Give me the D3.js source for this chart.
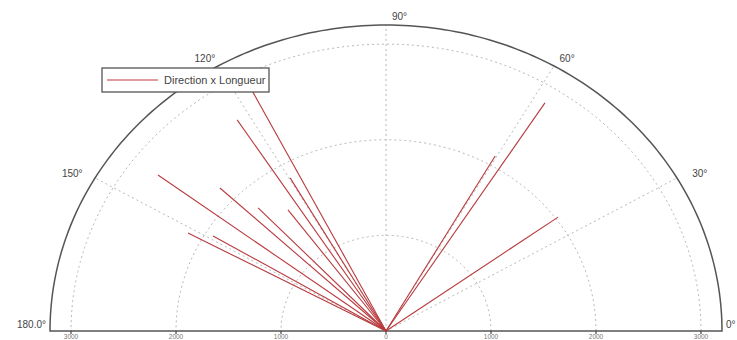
<!DOCTYPE html>
<html>
<head>
<meta charset="utf-8">
<script src="https://cdn.jsdelivr.net/npm/d3@7"></script>
<style>
  body { margin: 0; background: #fff; }
  svg { display: block; font-family: "Liberation Sans", Arial, sans-serif; }
</style>
</head>
<body>
<div id="container"></div>
<script>
/* DATA */
// direction in degrees, length in same unit as the rings
const directions = [116.9, 122.7, 143.1, 136.6, 133.4, 126.4, 119.7, 151.5, 148.9, 57.6, 60.4, 36.0];
const lengths = [2944, 2624, 2716, 2177, 1773, 1573, 1843, 2146, 1924, 2825, 2105, 2026];
const ringValues = [1000, 2000, 3000];
const spokeAngles = [30, 60, 90, 120, 150];
const angleLabels = ["0°", "30°", "60°", "90°", "120°", "150°", "180.0°"];
const axisTicks = [-3000, -2000, -1000, 0, 1000, 2000, 3000];
const legendLabel = "Direction x Longueur";

/* CONSTANTS */
const width = 737, height = 340;
const rMax = 3200;
const cx = 386, cy = 331;

const svg = d3.select("#container")
  .append("svg")
  .attr("width", width)
  .attr("height", height);

// x and y scales (picture is slightly squashed vertically)
const xScale = d3.scaleLinear().domain([-rMax, rMax]).range([cx - 336, cx + 336]);
const yScale = d3.scaleLinear().domain([0, rMax]).range([cy, cy - 306]);

const rad = a => a * Math.PI / 180;
const px = (r, a) => xScale(r * Math.cos(rad(a)));
const py = (r, a) => yScale(r * Math.sin(rad(a)));

const arcLine = d3.line()
  .x(d => px(d.r, d.a))
  .y(d => py(d.r, d.a));

const halfCircle = r => d3.range(0, 181, 1).map(a => ({ r: r, a: a }));

// dotted rings
svg.selectAll(".ring")
  .data(ringValues)
  .join("path")
  .attr("class", "ring")
  .attr("fill", "none")
  .attr("stroke", "#b8b8b8")
  .attr("stroke-width", 1)
  .attr("stroke-dasharray", "2,3")
  .attr("d", d => arcLine(halfCircle(d)));

// dotted spokes
svg.selectAll(".spoke")
  .data(spokeAngles)
  .join("line")
  .attr("class", "spoke")
  .attr("x1", px(0, 0))
  .attr("y1", py(0, 0))
  .attr("x2", d => px(rMax, d))
  .attr("y2", d => py(rMax, d))
  .attr("stroke", "#b8b8b8")
  .attr("stroke-width", 1)
  .attr("stroke-dasharray", "2,3");

// outer arc + base axis
svg.append("path")
  .attr("fill", "none")
  .attr("stroke", "#555")
  .attr("stroke-width", 1.5)
  .attr("d", arcLine(halfCircle(rMax)) + "Z");

// axis ticks below
svg.selectAll(".tick")
  .data(axisTicks)
  .join("line")
  .attr("class", "tick")
  .attr("x1", d => xScale(d))
  .attr("x2", d => xScale(d))
  .attr("y1", cy)
  .attr("y2", cy + 3)
  .attr("stroke", "#444")
  .attr("stroke-width", 1.2);

// tick labels squeezed into the strip under the axis
svg.selectAll(".tick-label")
  .data(axisTicks)
  .join("text")
  .attr("class", "tick-label")
  .attr("x", d => xScale(d))
  .attr("y", height - 1)
  .attr("text-anchor", "middle")
  .attr("font-size", 6.5)
  .attr("fill", "#777")
  .text(d => Math.abs(d));

// angle labels
svg.selectAll(".angle-label")
  .data(angleLabels)
  .join("text")
  .attr("class", "angle-label")
  .attr("x", (d, i) => {
    const a = i * 30;
    if (a === 0) return xScale(rMax) + 4;
    if (a === 180) return xScale(-rMax) - 4;
    if (a === 90) return cx + 6;
    return cx + 3.45 * 105 * Math.cos(rad(a));
  })
  .attr("y", (d, i) => {
    const a = i * 30;
    if (a === 0 || a === 180) return cy - 3;
    return cy - 3.3 * 95.6 * Math.sin(rad(a)) + 4;
  })
  .attr("text-anchor", (d, i) => i === 0 || i === 3 ? "start" : i === 6 ? "end" : "middle")
  .attr("font-size", 10)
  .attr("fill", "#444")
  .text(d => d);

// direction x length lines
svg.selectAll(".dir")
  .data(directions)
  .join("line")
  .attr("class", "dir")
  .attr("x1", px(0, 0))
  .attr("y1", py(0, 0))
  .attr("x2", (d, i) => px(lengths[i], d))
  .attr("y2", (d, i) => py(lengths[i], d))
  .attr("stroke", "#b83a3e")
  .attr("stroke-width", 1.1);

// legend
const legend = svg.append("g").attr("transform", "translate(102,68)");
legend.append("rect")
  .attr("width", 167)
  .attr("height", 24)
  .attr("fill", "#fff")
  .attr("stroke", "#555")
  .attr("stroke-width", 1.3);
legend.append("line")
  .attr("x1", 5).attr("x2", 56)
  .attr("y1", 12).attr("y2", 12)
  .attr("stroke", "#c0383c")
  .attr("stroke-width", 1);
legend.append("text")
  .attr("x", 62)
  .attr("y", 16)
  .attr("font-size", 11)
  .attr("fill", "#444")
  .text(legendLabel);
</script>
</body>
</html>
